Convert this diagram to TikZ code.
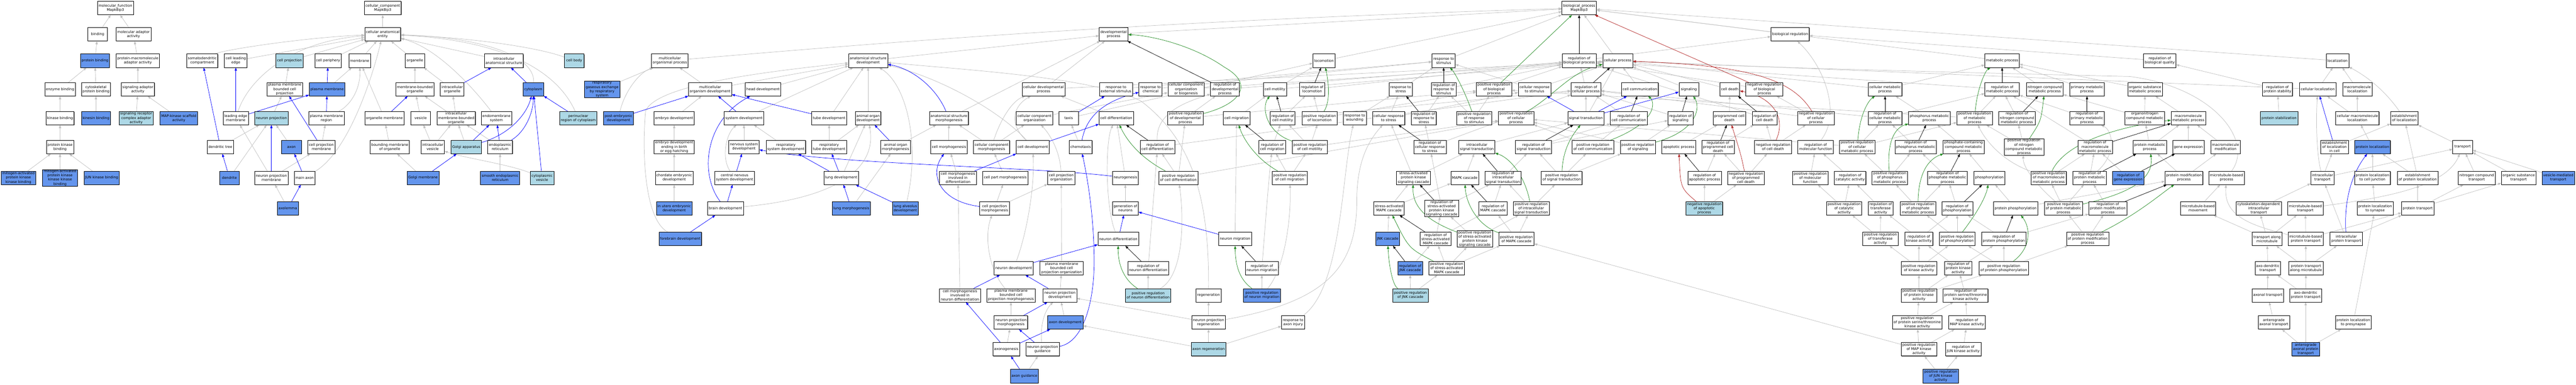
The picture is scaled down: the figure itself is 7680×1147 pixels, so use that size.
\documentclass[tikz,border=0pt]{standalone}
\usepackage{fontspec}
\setmainfont{DejaVu Sans}
\usetikzlibrary{arrows.meta,shadows}
\definecolor{cfb}{HTML}{6495ED}
\definecolor{lbl}{HTML}{ADD8E6}
\definecolor{eg}{HTML}{C0C0C0}
\definecolor{egn}{HTML}{228B22}
\definecolor{erd}{HTML}{B22222}
\pgfdeclarelayer{bg}
\pgfsetlayers{bg,main}
\tikzset{
 gonode/.style={draw=black, line width=0.5pt, fill=white, font=\fontsize{5.25}{6.2}\selectfont, align=center, inner xsep=1.8pt, inner ysep=0.4pt, minimum width=29.5pt, minimum height=20pt, general shadow={fill=black!45, shadow xshift=0.6pt, shadow yshift=-0.6pt}},
 nw/.style={gonode},
 nb/.style={gonode, fill=cfb},
 nl/.style={gonode, fill=lbl},
 edg/.style={line width=0.55pt, -{Triangle[length=4.6pt,width=3.4pt]}},
 eG/.style={edg, draw=eg},
 eB/.style={edg, draw=blue},
 eK/.style={edg, draw=black},
 eN/.style={edg, draw=egn},
 eR/.style={edg, draw=erd}
}
\begin{document}
\begin{tikzpicture}[x=0.5pt, y=-0.5pt]
\useasboundingbox (0,0) rectangle (7680,1147);
% ---------------- molecular function
\node[nw] (mf) at (344,24) {molecular\_function\\Mapk8ip3};
\node[nw] (bind) at (291,102) {binding};
\node[nw] (mad) at (398,102) {molecular adaptor\\activity};
\node[nb] (pbind) at (283,181) {protein binding};
\node[nw] (pmad) at (411,181) {protein-macromolecule\\adaptor activity};
\node[nw] (enzb) at (179,266) {enzyme binding};
\node[nw] (cytb) at (286,266) {cytoskeletal\\protein binding};
\node[nw] (sad) at (411,266) {signaling adaptor\\activity};
\node[nw] (kinb) at (179,352) {kinase binding};
\node[nb] (kinesb) at (286,352) {kinesin binding};
\node[nl] (srcad) at (406,352) {signaling receptor\\complex adaptor\\activity};
\node[nb] (mapks) at (533,352) {MAP-kinase scaffold\\activity};
\node[nw] (pkb) at (179,438) {protein kinase\\binding};
\node[nb] (mapkkb) at (55,530) {mitogen-activated\\protein kinase\\kinase binding};
\node[nb] (mapkkkb) at (179,530) {mitogen-activated\\protein kinase\\kinase kinase\\binding};
\node[nb] (junkb) at (303,530) {JUN kinase binding};
% ---------------- cellular component
\node[nw] (cc) at (1141,24) {cellular\_component\\Mapk8ip3};
\node[nw] (cae) at (1141,102) {cellular anatomical\\entity};
\node[nw] (sdc) at (603,181) {somatodendritic\\compartment};
\node[nw] (cle) at (703,181) {cell leading\\edge};
\node[nl] (cproj) at (863,181) {cell projection};
\node[nw] (cper) at (978,181) {cell periphery};
\node[nw] (memb) at (1072,181) {membrane};
\node[nw] (org) at (1237,181) {organelle};
\node[nw] (ias) at (1502,181) {intracellular\\anatomical structure};
\node[nl] (cbody) at (1712,181) {cell body};
\node[nw] (pmbcp) at (849,266) {plasma membrane\\bounded cell\\projection};
\node[nb] (pm) at (975,266) {plasma membrane};
\node[nw] (mbo) at (1237,266) {membrane-bounded\\organelle};
\node[nw] (iorg) at (1348,266) {intracellular\\organelle};
\node[nb] (cyto) at (1590,266) {cytoplasm};
\node[nb] (rgas) at (1795,266) {respiratory\\gaseous exchange\\by respiratory\\system};
\node[nw] (lem) at (703,352) {leading edge\\membrane};
\node[nl] (nproj) at (809,352) {neuron projection};
\node[nw] (pmr) at (973,352) {plasma membrane\\region};
\node[nw] (orgm) at (1146,352) {organelle membrane};
\node[nw] (ves) at (1254,352) {vesicle};
\node[nw] (imbo) at (1360,352) {intracellular\\membrane-bounded\\organelle};
\node[nw] (endo) at (1480,352) {endomembrane\\system};
\node[nl] (perin) at (1724,352) {perinuclear\\region of cytoplasm};
\node[nb] (ped) at (1844,352) {post-embryonic\\development};
\node[nw] (dtree) at (657,438) {dendritic tree};
\node[nb] (axon) at (869,438) {axon};
\node[nw] (cpm) at (958,438) {cell projection\\membrane};
\node[nw] (bmo) at (1162,438) {bounding membrane\\of organelle};
\node[nw] (ives) at (1290,438) {intracellular\\vesicle};
\node[nl] (golgi) at (1390,438) {Golgi apparatus};
\node[nw] (er) at (1491,438) {endoplasmic\\reticulum};
\node[nb] (dend) at (684,530) {dendrite};
\node[nw] (npm) at (809,530) {neuron projection\\membrane};
\node[nw] (maxon) at (908,530) {main axon};
\node[nb] (golgim) at (1261,530) {Golgi membrane};
\node[nb] (ser) at (1491,530) {smooth endoplasmic\\reticulum};
\node[nl] (cves) at (1616,530) {cytoplasmic\\vesicle};
\node[nb] (axolem) at (858,621) {axolemma};
% ---------------- biological process: development
\node[nw] (bp) at (4708,24) {biological\_process\\Mapk8ip3};
\node[nw] (devp) at (3320,102) {developmental\\process};
\node[nw] (breg) at (5337,102) {biological regulation};
\node[nw] (mop) at (1997,181) {multicellular\\organismal process};
\node[nw] (asd) at (2588,181) {anatomical structure\\development};
\node[nw] (mod) at (2117,266) {multicellular\\organism development};
\node[nw] (headd) at (2275,266) {head development};
\node[nw] (cdp) at (3111,266) {cellular developmental\\process};
\node[nw] (embd) at (2010,352) {embryo development};
\node[nw] (sysd) at (2218,352) {system development};
\node[nw] (tubed) at (2472,352) {tube development};
\node[nw] (aod) at (2588,352) {animal organ\\development};
\node[nw] (asm) at (2829,352) {anatomical structure\\morphogenesis};
\node[nw] (cco) at (3084,352) {cellular component\\organization};
\node[nw] (taxis) at (3186,352) {taxis};
\node[nw] (edb) at (2010,438) {embryo development\\ending in birth\\or egg hatching};
\node[nw] (nsd) at (2218,438) {nervous system\\development};
\node[nw] (rsd) at (2343,438) {respiratory\\system development};
\node[nw] (rtd) at (2472,438) {respiratory\\tube development};
\node[nw] (aom) at (2670,438) {animal organ\\morphogenesis};
\node[nw] (cmorph) at (2829,438) {cell morphogenesis};
\node[nw] (ccm) at (2956,438) {cellular component\\morphogenesis};
\node[nw] (celldev) at (3079,438) {cell development};
\node[nw] (chemo) at (3222,438) {chemotaxis};
\node[nw] (ced) at (2010,530) {chordate embryonic\\development};
\node[nw] (cnsd) at (2190,530) {central nervous\\system development};
\node[nw] (lungd) at (2508,530) {lung development};
\node[nw] (cmid) at (2856,530) {cell morphogenesis\\involved in\\differentiation};
\node[nw] (cpartm) at (2997,530) {cell part morphogenesis};
\node[nw] (cpo) at (3164,530) {cell projection\\organization};
\node[nb] (iued) at (2010,621) {in utero embryonic\\development};
\node[nw] (braind) at (2163,621) {brain development};
\node[nb] (lungm) at (2538,621) {lung morphogenesis};
\node[nb] (lad) at (2699,621) {lung alveolus\\development};
\node[nw] (cpmorph) at (2965,621) {cell projection\\morphogenesis};
\node[nb] (fbd) at (2028,712) {forebrain development};
\node[nw] (neurdev) at (3022,799) {neuron development};
\node[nw] (pmbcpo) at (3165,799) {plasma membrane\\bounded cell\\projection organization};
\node[nw] (cmind) at (2862,880) {cell morphogenesis\\involved in\\neuron differentiation};
\node[nw] (pmbcpm) at (3014,880) {plasma membrane\\bounded cell\\projection morphogenesis};
\node[nw] (npd) at (3160,880) {neuron projection\\development};
\node[nw] (npmo) at (3014,961) {neuron projection\\morphogenesis};
\node[nb] (axd) at (3176,961) {axon development};
\node[nw] (axg) at (3000,1041) {axonogenesis};
\node[nw] (npg) at (3108,1041) {neuron projection\\guidance};
\node[nb] (axguid) at (3054,1121) {axon guidance};
% ---------------- differentiation / migration
\node[nw] (rext) at (3327,266) {response to\\external stimulus};
\node[nw] (rchem) at (3430,266) {response to\\chemical};
\node[nw] (ccob) at (3536,266) {cellular component\\organization\\or biogenesis};
\node[nw] (rdevp) at (3652,266) {regulation of\\developmental\\process};
\node[nw] (cmot) at (3801,266) {cell motility};
\node[nw] (cdiff) at (3328,352) {cell differentiation};
\node[nw] (prdevp) at (3534,352) {positive regulation\\of developmental\\process};
\node[nw] (cmig) at (3687,352) {cell migration};
\node[nw] (rcmot) at (3824,352) {regulation of\\cell motility};
\node[nw] (rcdiff) at (3451,438) {regulation of\\cell differentiation};
\node[nw] (rcmig) at (3793,438) {regulation of\\cell migration};
\node[nw] (neurog) at (3355,530) {neurogenesis};
\node[nw] (prcdiff) at (3513,530) {positive regulation\\of cell differentiation};
\node[nw] (prcmig) at (3845,530) {positive regulation\\of cell migration};
\node[nw] (genn) at (3355,621) {generation of\\neurons};
\node[nw] (ndiff) at (3334,712) {neuron differentiation};
\node[nw] (nmig) at (3682,712) {neuron migration};
\node[nw] (rndiff) at (3423,799) {regulation of\\neuron differentiation};
\node[nw] (rnmig) at (3762,799) {regulation of\\neuron migration};
\node[nl] (prndiff) at (3423,880) {positive regulation\\of neuron differentiation};
\node[nw] (regen) at (3603,880) {regeneration};
\node[nb] (prnmig) at (3762,880) {positive regulation\\of neuron migration};
\node[nw] (nprg) at (3603,961) {neuron projection\\regeneration};
\node[nw] (rai) at (3855,961) {response to\\axon injury};
\node[nl] (axreg) at (3603,1041) {axon regeneration};
% ---------------- stimulus / signalling
\node[nw] (loc) at (3947,181) {locomotion};
\node[nw] (rstim) at (4304,181) {response to\\stimulus};
\node[nw] (rloc) at (3912,266) {regulation of\\locomotion};
\node[nw] (rstress) at (4176,266) {response to\\stress};
\node[nw] (rrstim) at (4304,266) {regulation of\\response to\\stimulus};
\node[nw] (prbp) at (4454,266) {positive regulation\\of biological\\process};
\node[nw] (prloc) at (3934,352) {positive regulation\\of locomotion};
\node[nw] (rwound) at (4039,352) {response to\\wounding};
\node[nw] (crstress) at (4140,352) {cellular response\\to stress};
\node[nw] (rrstress) at (4245,352) {regulation of\\response to\\stress};
\node[nw] (prrstim) at (4395,352) {positive regulation\\of response\\to stimulus};
\node[nw] (prcp) at (4520,352) {positive regulation\\of cellular\\process};
\node[nw] (prcmot) at (3905,438) {positive regulation\\of cell motility};
\node[nw] (rcrstress) at (4263,438) {regulation of\\cellular response\\to stress};
\node[nw] (ist) at (4403,438) {intracellular\\signal transduction};
\node[nw] (sapk) at (4214,530) {stress-activated\\protein kinase\\signaling cascade};
\node[nw] (mapkc) at (4367,530) {MAPK cascade};
\node[nw] (rist) at (4481,530) {regulation of\\intracellular\\signal transduction};
\node[nw] (samapk) at (4141,621) {stress-activated\\MAPK cascade};
\node[nw] (rsapk) at (4298,621) {regulation of\\stress-activated\\protein kinase\\signaling cascade};
\node[nw] (rmapkc) at (4451,621) {regulation of\\MAPK cascade};
\node[nb] (jnk) at (4137,712) {JNK cascade};
\node[nw] (rsamapk) at (4280,712) {regulation of\\stress-activated\\MAPK cascade};
\node[nw] (prsapk) at (4397,712) {positive regulation\\of stress-activated\\protein kinase\\signaling cascade};
\node[nw] (prmapkc) at (4521,712) {positive regulation\\of MAPK cascade};
\node[nb] (rjnk) at (4204,799) {regulation of\\JNK cascade};
\node[nw] (prsamapk) at (4313,799) {positive regulation\\of stress-activated\\MAPK cascade};
\node[nl] (prjnk) at (4205,880) {positive regulation\\of JNK cascade};
\node[nw] (rbp) at (4708,181) {regulation of\\biological process};
\node[nw] (cp) at (4823,181) {cellular process};
\node[nw] (crstim) at (4575,266) {cellular response\\to stimulus};
\node[nw] (rcp) at (4728,266) {regulation of\\cellular process};
\node[nw] (ccomm) at (4889,266) {cell communication};
\node[nw] (sig) at (5035,266) {signaling};
\node[nw] (st) at (4728,352) {signal transduction};
\node[nw] (rccomm) at (4856,352) {regulation of\\cell communication};
\node[nw] (rsig) at (5010,352) {regulation of\\signaling};
\node[nw] (pcd) at (5156,352) {programmed cell\\death};
\node[nw] (rst) at (4572,438) {regulation of\\signal transduction};
\node[nw] (prccomm) at (4749,438) {positive regulation\\of cell communication};
\node[nw] (prsig) at (4883,438) {positive regulation\\of signaling};
\node[nw] (apop) at (5005,438) {apoptotic process};
\node[nw] (rpcd) at (5122,438) {regulation of\\programmed cell\\death};
\node[nw] (prst) at (4656,530) {positive regulation\\of signal transduction};
\node[nw] (rapop) at (5082,530) {regulation of\\apoptotic process};
\node[nw] (prist) at (4565,621) {positive regulation\\of intracellular\\signal transduction};
\node[nl] (nrapop) at (5081,621) {negative regulation\\of apoptotic\\process};
% ---------------- regulation / metabolism
\node[nw] (cdeath) at (5157,266) {cell death};
\node[nw] (nrbp) at (5260,266) {negative regulation\\of biological\\process};
\node[nw] (cmp) at (5620,266) {cellular metabolic\\process};
\node[nw] (rcd) at (5261,352) {regulation of\\cell death};
\node[nw] (nrcp) at (5414,352) {negative regulation\\of cellular\\process};
\node[nw] (rcmp) at (5620,352) {regulation of\\cellular metabolic\\process};
\node[nw] (phmp) at (5752,352) {phosphorus metabolic\\process};
\node[nw] (nrcd) at (5286,438) {negative regulation\\of cell death};
\node[nw] (rmf) at (5413,438) {regulation of\\molecular function};
\node[nw] (prcmp) at (5537,438) {positive regulation\\of cellular\\metabolic process};
\node[nw] (rphmp) at (5711,438) {regulation of\\phosphorus metabolic\\process};
\node[nw] (nrpcd) at (5205,530) {negative regulation\\of programmed\\cell death};
\node[nw] (prmf) at (5397,530) {positive regulation\\of molecular\\function};
\node[nw] (rca) at (5516,530) {regulation of\\catalytic activity};
\node[nw] (prphmp) at (5634,530) {positive regulation\\of phosphorus\\metabolic process};
\node[nw] (rphatemp) at (5806,530) {regulation of\\phosphate metabolic\\process};
\node[nw] (prca) at (5498,621) {positive regulation\\of catalytic\\activity};
\node[nw] (rta) at (5607,621) {regulation of\\transferase\\activity};
\node[nw] (prphatemp) at (5718,621) {positive regulation\\of phosphate\\metabolic process};
\node[nw] (prta) at (5606,712) {positive regulation\\of transferase\\activity};
\node[nw] (rka) at (5721,712) {regulation of\\kinase activity};
\node[nw] (prka) at (5721,799) {positive regulation\\of kinase activity};
\node[nw] (prpka) at (5721,880) {positive regulation\\of protein kinase\\activity};
\node[nw] (prpstka) at (5716,961) {positive regulation\\of protein serine/threonine\\kinase activity};
\node[nw] (prmapka) at (5721,1041) {positive regulation\\of MAP kinase\\activity};
\node[nb] (prjunka) at (5786,1121) {positive regulation\\of JUN kinase\\activity};
\node[nw] (mp) at (5969,181) {metabolic process};
\node[nw] (rbq) at (6439,181) {regulation of\\biological quality};
\node[nw] (rmp) at (5969,266) {regulation of\\metabolic process};
\node[nw] (ncmp) at (6096,266) {nitrogen compound\\metabolic process};
\node[nw] (pmp) at (6222,266) {primary metabolic\\process};
\node[nw] (osmp) at (6395,266) {organic substance\\metabolic process};
\node[nw] (prmp) at (5887,352) {positive regulation\\of metabolic\\process};
\node[nw] (rncmp) at (6013,352) {regulation of\\nitrogen compound\\metabolic process};
\node[nw] (rpmp) at (6222,352) {regulation of\\primary metabolic\\process};
\node[nw] (oncmp) at (6394,352) {organonitrogen\\compound metabolic\\process};
\node[nw] (phcmp) at (5854,438) {phosphate-containing\\compound metabolic\\process};
\node[nw] (prncmp) at (6034,438) {positive regulation\\of nitrogen\\compound metabolic\\process};
\node[nw] (rmmp) at (6246,438) {regulation of\\macromolecule\\metabolic process};
\node[nw] (protmp) at (6409,438) {protein metabolic\\process};
\node[nw] (phos) at (5931,530) {phosphorylation};
\node[nw] (prmmp) at (6108,530) {positive regulation\\of macromolecule\\metabolic process};
\node[nw] (rprotmp) at (6230,530) {regulation of\\protein metabolic\\process};
\node[nb] (rge) at (6345,530) {regulation of\\gene expression};
\node[nw] (rphos) at (5835,621) {regulation of\\phosphorylation};
\node[nw] (pphos) at (6009,621) {protein phosphorylation};
\node[nw] (prprotmp) at (6152,621) {positive regulation\\of protein metabolic\\process};
\node[nw] (rpmod) at (6284,621) {regulation of\\protein modification\\process};
\node[nw] (prphos) at (5835,712) {positive regulation\\of phosphorylation};
\node[nw] (rpphos) at (5974,712) {regulation of\\protein phosphorylation};
\node[nw] (prpmod) at (6224,712) {positive regulation\\of protein modification\\process};
\node[nw] (rpka) at (5838,799) {regulation of\\protein kinase\\activity};
\node[nw] (prpphos) at (5974,799) {positive regulation\\of protein phosphorylation};
\node[nw] (rpstka) at (5860,880) {regulation of\\protein serine/threonine\\kinase activity};
\node[nw] (rmapka) at (5864,961) {regulation of\\MAP kinase activity};
\node[nw] (rjunka) at (5853,1041) {regulation of\\JUN kinase activity};
% ---------------- localization / transport
\node[nw] (loc2) at (6969,181) {localization};
\node[nw] (rps) at (6790,266) {regulation of\\protein stability};
\node[nw] (cloc) at (6910,266) {cellular localization};
\node[nw] (mloc) at (7028,266) {macromolecule\\localization};
\node[nw] (mmp) at (6524,352) {macromolecule\\metabolic process};
\node[nl] (pstab) at (6795,352) {protein stabilization};
\node[nw] (cmloc) at (7028,352) {cellular macromolecule\\localization};
\node[nw] (estloc) at (7168,352) {establishment\\of localization};
\node[nw] (ge) at (6524,438) {gene expression};
\node[nw] (mmod) at (6635,438) {macromolecule\\modification};
\node[nw] (estlc) at (6960,438) {establishment\\of localization\\in cell};
\node[nb] (ploc) at (7073,438) {protein localization};
\node[nw] (transp) at (7342,438) {transport};
\node[nw] (pmodp) at (6511,530) {protein modification\\process};
\node[nw] (mtbp) at (6638,530) {microtubule-based\\process};
\node[nw] (itrans) at (6924,530) {intracellular\\transport};
\node[nw] (plcj) at (7073,530) {protein localization\\to cell junction};
\node[nw] (estploc) at (7208,530) {establishment\\of protein localization};
\node[nw] (nctrans) at (7384,530) {nitrogen compound\\transport};
\node[nw] (ostrans) at (7509,530) {organic substance\\transport};
\node[nb] (vmt) at (7627,530) {vesicle-mediated\\transport};
\node[nw] (mtbm) at (6553,621) {microtubule-based\\movement};
\node[nw] (cdit) at (6734,621) {cytoskeleton-dependent\\intracellular\\transport};
\node[nw] (mtbt) at (6873,621) {microtubule-based\\transport};
\node[nw] (plsyn) at (7081,621) {protein localization\\to synapse};
\node[nw] (ptrans) at (7208,621) {protein transport};
\node[nw] (tam) at (6759,712) {transport along\\microtubule};
\node[nw] (mtbpt) at (6874,712) {microtubule-based\\protein transport};
\node[nw] (iptrans) at (6995,712) {intracellular\\protein transport};
\node[nw] (adt) at (6761,799) {axo-dendritic\\transport};
\node[nw] (ptam) at (6875,799) {protein transport\\along microtubule};
\node[nw] (axtrans) at (6761,880) {axonal transport};
\node[nw] (adpt) at (6874,880) {axo-dendritic\\protein transport};
\node[nw] (aat) at (6779,961) {anterograde\\axonal transport};
\node[nw] (plpre) at (7016,961) {protein localization\\to presynapse};
\node[nb] (aapt) at (6874,1041) {anterograde\\axonal protein\\transport};

\begin{pgfonlayer}{bg}
\fill[white] (0,0) rectangle (7680,1147);
% ---- gray straight edges
\foreach \a/\b in {bind/mf, mad/mf, pbind/bind, pmad/mad, enzb/pbind, cytb/pbind, sad/pmad, kinb/enzb, kinesb/cytb, srcad/sad, mapks/sad, pkb/kinb, mapkkb/pkb, mapkkkb/pkb, junkb/pkb,
 cae/cc, cle/cae, cproj/cae, cper/cae, memb/cae, org/cae, ias/cae, pmbcp/cproj, pm/memb, mbo/org, iorg/org, nproj/pmbcp, orgm/memb, ves/mbo, imbo/mbo, imbo/iorg, dtree/nproj, axon/nproj, cpm/pmr, bmo/orgm, ives/ves, ives/imbo, golgi/imbo, er/imbo, dend/nproj, npm/lem, npm/cpm, golgim/bmo, ser/er, axolem/npm,
 asd/devp, devp/bp, mod/mop, mod/asd, headd/asd, embd/mod, sysd/asd, tubed/asd, aod/asd, edb/embd, nsd/sysd, rsd/sysd, rtd/tubed, rtd/aod, ced/edb, lungd/aod, iued/ced, lungm/aom, rgas/mop,
 asm/devp, aom/asm, cmorph/asm, ccm/asm, ccm/cco, cdp/devp, cdp/cp, cco/ccob, taxis/loc, chemo/taxis, cmid/cmorph, cpartm/ccm, cpmorph/cpartm, cpmorph/cpo, pmbcpo/cpo, cmind/cmid, npd/pmbcpo, npmo/pmbcpm, axd/npd, axg/npmo, axguid/npg, nprg/regen, nprg/npd, axreg/nprg, axreg/axd, axreg/rai,
 rext/rstim, rchem/rstim, ccob/cp, rdevp/rbp, cmot/loc, cmot/cp, cdiff/cdp, cmig/cmot, rcdiff/rcp, prdevp/rdevp, prdevp/prbp, prcdiff/rcdiff, prcdiff/prdevp, prcdiff/prcp, rcmig/rcmot, rcmot/rloc, rcmot/rcp, prcmig/rcmig, prcmig/prcmot, neurog/cdiff, genn/neurog, rndiff/rcdiff, prndiff/rndiff, nmig/cmig, prnmig/rnmig,
 loc/bp, rstim/bp, rloc/rbp, prloc/rloc, prloc/prbp, prcmot/rcmot, prcmot/prloc, prcmot/prcp, rstress/rstim, rwound/rstress, crstress/rstress, crstress/crstim, rrstim/rbp, rrstress/rrstim, prrstim/rrstim, prrstim/prbp, prbp/rbp, rcrstress/rrstress, rcrstress/rcp, ist/st, sapk/crstress, sapk/ist, mapkc/ist, rist/rst, rsapk/rcrstress, rsapk/rist, rmapkc/rist, samapk/sapk, samapk/mapkc, jnk/samapk, rsamapk/rsapk, rsamapk/rmapkc, prsapk/rsapk, prsapk/prist, prmapkc/rmapkc, prmapkc/prist, rjnk/rsamapk, prsamapk/rsamapk, prsamapk/prsapk, prsamapk/prmapkc, prjnk/rjnk, prjnk/prsamapk, crstim/rstim, crstim/cp,
 cp/bp, rcp/rbp, ccomm/cp, sig/cp, st/rcp, st/cp, rccomm/rcp, rsig/rcp, rst/rccomm, rst/rsig, prccomm/rccomm, prccomm/prcp, prsig/rsig, prsig/prcp, apop/pcd, pcd/cdeath, rpcd/rcd, prst/rst, prst/prccomm, prst/prsig, rapop/rpcd, prist/rist, prist/prst, nrapop/rapop, nrapop/nrpcd,
 breg/bp, rbp/breg, cdeath/cp, nrbp/rbp, nrcp/rcp, nrcp/nrbp, rcd/rbp, nrcd/rcd, nrcd/nrcp, nrpcd/rpcd, nrpcd/nrcd, cmp/cp, cmp/mp, rcmp/rcp, rcmp/rmp, phmp/cmp, prcmp/rcmp, prcmp/prcp, prcmp/prmp, rphmp/rcmp, prmf/rmf, rca/rmf, prphmp/rphmp, prphmp/prcmp, prca/prmf, prca/rca, rta/rca, prphatemp/prphmp, prphatemp/rphatemp, prta/prca, prta/rta, rka/rta, rka/rphos, prka/rka, prka/prta, prka/prphos, prpka/prka, prpka/rpka, prpka/prpphos, prpstka/prpka, prpstka/rpstka, prmapka/prpstka, prmapka/rmapka, prmapka/prmapkc, prjunka/prmapka, prjunka/rjunka, rphatemp/rphmp,
 mp/bp, rmp/rbp, ncmp/mp, pmp/mp, osmp/mp, rbq/breg, prmp/rmp, prmp/prbp, rncmp/rmp, rpmp/rmp, oncmp/osmp, oncmp/ncmp, phcmp/phmp, prncmp/rncmp, prncmp/prmp, rmmp/rmp, protmp/mmp, protmp/oncmp, phos/phcmp, prmmp/rmmp, rprotmp/rmmp, rge/rmmp, rphos/rphatemp, pphos/phos, pphos/pmodp, prprotmp/rprotmp, prprotmp/prmmp, rpmod/rprotmp, prphos/rphos, prphos/prphatemp, rpphos/rphos, rpphos/rpmod, prpmod/rpmod, prpmod/prprotmp, rpka/rka, rpka/rpphos, prpphos/rpphos, prpphos/prphos, prpphos/prpmod, rpstka/rpka, rmapka/rpstka, rjunka/rmapka,
 loc2/bp, rps/rbq, cloc/loc2, cloc/cp, mloc/loc2, mmp/osmp, pstab/rps, cmloc/mloc, cmloc/cloc, ge/mmp, mmod/mmp, estlc/estloc, ploc/cmloc, transp/estloc, pmodp/mmod, pmodp/protmp, itrans/estlc, itrans/transp, plcj/ploc, estploc/ploc, estploc/estloc, nctrans/transp, ostrans/transp, vmt/transp, mtbm/mtbp, cdit/itrans, plsyn/plcj, ptrans/estploc, ptrans/nctrans, ptrans/ostrans, tam/cdit, tam/mtbt, tam/mtbm, mtbpt/mtbt, mtbpt/ptrans, iptrans/itrans, iptrans/ptrans, adt/tam, ptam/tam, ptam/mtbpt, ptam/iptrans, axtrans/adt, adpt/ptam, adpt/adt, aat/axtrans, plpre/plsyn, aapt/aat, aapt/adpt, aapt/plpre}
 {\draw[eG] (\a) -- (\b);}
% ---- gray curved edges
\draw[eG] (sdc) .. controls (660,150) and (900,112) .. (cae);
\draw[eG] (lem) .. controls (740,240) and (860,125) .. (cae);
\draw[eG] (maxon) .. controls (1040,450) and (1110,230) .. (cae);
\draw[eG] (cyto) .. controls (1595,170) and (1450,112) .. (cae);
\draw[eG] (perin) .. controls (1660,210) and (1500,120) .. (cae);
\draw[eG] (endo) .. controls (1410,260) and (1300,140) .. (cae);
\draw[eG] (cbody) .. controls (1600,140) and (1400,112) .. (cae);
\draw[eG] (pmr) .. controls (1050,310) and (1075,260) .. (memb);
\draw[eG] (cves) .. controls (1520,490) and (1380,470) .. (ives);
\draw[eG] (mop) .. controls (2600,130) and (3400,62) .. (bp);
\draw[eG] (ped) .. controls (1860,280) and (1900,220) .. (mop);
\draw[eG] (cnsd) .. controls (2150,470) and (2165,400) .. (sysd);
\draw[eG] (braind) .. controls (2500,590) and (2615,500) .. (aod);
\draw[eG] (fbd) .. controls (1915,650) and (1915,420) .. (1925,330) .. controls (1960,250) and (2300,212) .. (asd);
\draw[eG] (lad) .. controls (2745,420) and (2700,250) .. (asd);
\draw[eG] (ccm) .. controls (2985,350) and (3020,300) .. (cdp);
\draw[eG] (celldev) .. controls (3000,360) and (3030,310) .. (cdp);
\draw[eG] (celldev) .. controls (2980,330) and (2800,230) .. (asd);
\draw[eG] (cpo) .. controls (3160,450) and (3130,400) .. (cco);
\draw[eG] (neurdev) .. controls (3060,700) and (3085,560) .. (celldev);
\draw[eG] (pmbcpm) .. controls (2945,800) and (2935,700) .. (cpmorph);
\draw[eG] (npg) .. controls (3100,970) and (3115,925) .. (npd);
\draw[eG] (regen) .. controls (3605,600) and (3560,420) .. (3400,300) .. controls (3250,230) and (2900,210) .. (asd);
\draw[eG] (nprg) .. controls (3950,900) and (4045,800) .. (4045,600) .. controls (4045,480) and (4080,420) .. (crstress);
\draw[eG] (rai) .. controls (4000,860) and (4000,520) .. (rwound);
\draw[eG] (rcdiff) .. controls (3445,330) and (3550,300) .. (rdevp);
\draw[eG] (ndiff) .. controls (3295,620) and (3295,420) .. (cdiff);
\draw[eG] (prndiff) .. controls (3530,820) and (3530,650) .. (prcdiff);
\draw[eG] (rnmig) .. controls (3770,700) and (3780,560) .. (rcmig);
\draw[eG] (prnmig) .. controls (3830,800) and (3850,650) .. (prcmig);
\draw[eG] (rmf) .. controls (5490,340) and (5440,200) .. (breg);
\draw[eG] (prmmp) .. controls (5970,480) and (5920,420) .. (prmp);
\draw[eG] (rprotmp) .. controls (6310,460) and (6300,390) .. (rpmp);
\draw[eG] (prprotmp) .. controls (6080,560) and (6030,500) .. (prncmp);
\draw[eG] (mtbp) .. controls (6720,420) and (6600,260) .. (6350,228) .. controls (5800,215) and (5200,200) .. (cp);
\draw[eG] (estloc) .. controls (7110,270) and (7060,230) .. (loc2);
\draw[eG] (itrans) .. controls (6905,450) and (6905,350) .. (cloc);
\draw[eG] (mtbt) .. controls (7100,590) and (7290,560) .. (transp);
\draw[eG] (mtbpt) .. controls (6700,670) and (6630,640) .. (mtbp);
% ---- blue edges
\foreach \a/\b in {dtree/sdc, pm/cper, lem/cle, lem/pm, pmr/pm, orgm/mbo, cpm/pmbcp, dend/dtree, npm/nproj, maxon/axon, golgim/golgi, axolem/maxon, iorg/ias, cyto/ias, perin/cyto, golgi/endo, er/endo, cves/cyto,
 ped/mod, sysd/mod, tubed/mod, cnsd/nsd, lungd/rtd, lungd/rsd, braind/cnsd, lungm/lungd, fbd/braind, lad/lungd, aom/aod, celldev/cdiff, taxis/rext, cmid/celldev, neurdev/ndiff, cmind/neurdev, npd/neurdev, npmo/npd, axg/cmind, axg/axd, npg/npmo, axguid/axg, ndiff/genn, nmig/genn, st/crstim, st/ccomm, st/sig, estlc/cloc}
 {\draw[eB] (\a) -- (\b);}
\draw[eB] (golgi) .. controls (1520,400) and (1570,340) .. (cyto);
\draw[eB] (er) .. controls (1570,390) and (1590,330) .. (cyto);
\draw[eB] (braind) .. controls (2085,520) and (2100,360) .. (headd);
\draw[eB] (asm) .. controls (2790,260) and (2720,205) .. (asd);
\draw[eB] (cpmorph) .. controls (2800,600) and (2770,520) .. (cmorph);
\draw[eB] (npg) .. controls (3230,1020) and (3262,900) .. (3262,780) .. controls (3262,640) and (3240,520) .. (chemo);
\draw[eB] (chemo) .. controls (3240,340) and (3300,300) .. (rchem);
\draw[eB] (neurog) .. controls (3100,498) and (2500,490) .. (nsd);
\draw[eB] (iptrans) .. controls (6988,600) and (7010,520) .. (ploc);
% ---- black (regulates) edges
\foreach \a/\b in {rdevp/devp, rcdiff/cdiff, rcmig/cmig, rndiff/ndiff, rnmig/nmig, rcmot/cmot, rloc/loc, rrstim/rstim, rrstress/rstress, rcrstress/crstress, rist/ist, rsapk/sapk, rmapkc/mapkc, rsamapk/samapk, rjnk/jnk, rbp/bp, rcp/cp, rccomm/ccomm, rsig/sig, rst/st, rapop/apop, rpcd/pcd, rcd/cdeath, rcmp/cmp, rphmp/phmp, rmp/mp, rncmp/ncmp, rpmp/pmp, rmmp/mmp, rprotmp/protmp, rge/ge, rphatemp/phcmp, rphos/phos, rpphos/pphos, rpmod/pmodp}
 {\draw[eK] (\a) -- (\b);}
% ---- green (positively regulates) edges
\draw[eN] (prdevp) .. controls (3700,310) and (3740,250) .. (3650,200) .. controls (3550,130) and (3420,105) .. (devp);
\draw[eN] (prcdiff) .. controls (3400,470) and (3360,420) .. (cdiff);
\draw[eN] (prcmig) .. controls (3740,470) and (3705,410) .. (cmig);
\draw[eN] (prndiff) .. controls (3345,830) and (3333,780) .. (ndiff);
\draw[eN] (prnmig) .. controls (3690,830) and (3683,780) .. (nmig);
\draw[eN] (prcmot) .. controls (3775,395) and (3760,320) .. (cmot);
\draw[eN] (prloc) .. controls (3968,300) and (3960,240) .. (loc);
\draw[eN] (prrstim) .. controls (4370,280) and (4340,220) .. (rstim);
\draw[eN] (prbp) -- (bp);
\draw[eN] (prsapk) .. controls (4260,660) and (4210,620) .. (sapk);
\draw[eN] (prmapkc) .. controls (4400,670) and (4370,600) .. (mapkc);
\draw[eN] (prsamapk) .. controls (4200,740) .. (samapk);
\draw[eN] (prjnk) .. controls (4150,850) and (4140,780) .. (jnk);
\draw[eN] (prist) .. controls (4545,520) and (4500,470) .. (ist);
\draw[eN] (prcp) .. controls (4640,280) and (4680,215) .. (cp);
\draw[eN] (prccomm) .. controls (4950,360) and (4930,300) .. (ccomm);
\draw[eN] (prsig) .. controls (5060,390) and (5070,320) .. (sig);
\draw[eN] (prst) .. controls (4660,440) and (4690,400) .. (st);
\draw[eN] (prcmp) .. controls (5545,340) and (5570,300) .. (cmp);
\draw[eN] (prphmp) .. controls (5625,420) and (5650,380) .. (phmp);
\draw[eN] (prphatemp) .. controls (5720,500) and (5760,470) .. (phcmp);
\draw[eN] (prmp) .. controls (5895,260) and (5920,210) .. (mp);
\draw[eN] (prncmp) .. controls (6085,360) .. (ncmp);
\draw[eN] (prmmp) .. controls (6160,420) and (6330,375) .. (mmp);
\draw[eN] (prprotmp) .. controls (6380,570) and (6420,520) .. (protmp);
\draw[eN] (prpmod) .. controls (6370,640) and (6440,580) .. (pmodp);
\draw[eN] (prphos) .. controls (5890,640) and (5920,590) .. (phos);
\draw[eN] (prpphos) .. controls (6055,740) and (6055,680) .. (pphos);
% ---- red (negatively regulates) edges
\draw[eR] (nrbp) -- (bp);
\draw[eR] (nrcp) .. controls (5340,230) and (5200,195) .. (cp);
\draw[eR] (nrcd) .. controls (5330,340) and (5270,285) .. (cdeath);
\draw[eR] (nrpcd) .. controls (5190,460) .. (pcd);
\draw[eR] (nrapop) .. controls (5010,560) .. (apop);
\end{pgfonlayer}
\end{tikzpicture}
\end{document}
